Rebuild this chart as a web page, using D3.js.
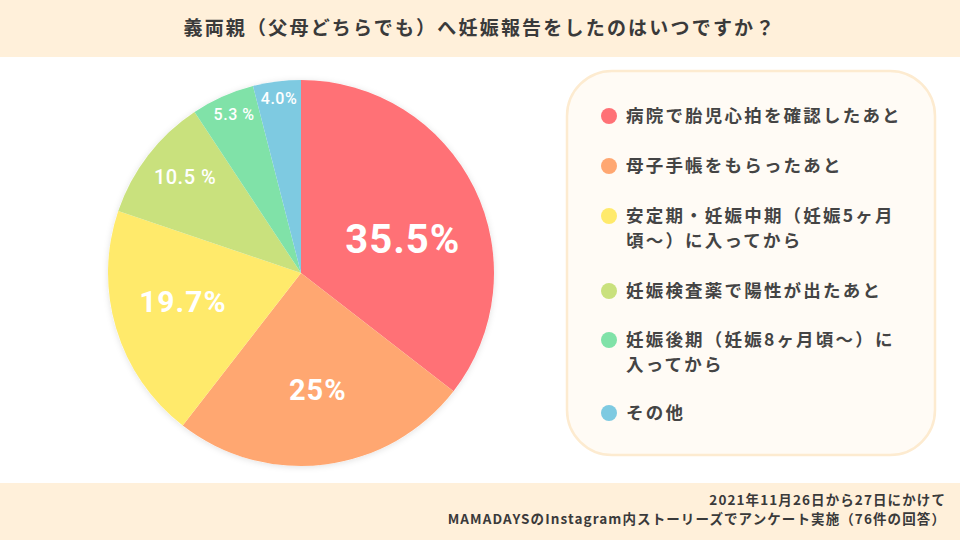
<!DOCTYPE html>
<html><head><meta charset="utf-8">
<script src="https://cdn.jsdelivr.net/npm/d3@7"></script>
<style>body{margin:0;background:#fff;}svg{display:block;font-family:"Noto Sans CJK JP","Noto Sans",sans-serif;}</style>
</head><body>
<script>
const categories = ["病院で胎児心拍を確認したあと","母子手帳をもらったあと","安定期・妊娠中期（妊娠5ヶ月頃〜）に入ってから","妊娠検査薬で陽性が出たあと","妊娠後期（妊娠8ヶ月頃〜）に入ってから","その他"];
const legendLines = [["病院で胎児心拍を確認したあと"],["母子手帳をもらったあと"],["安定期・妊娠中期（妊娠5ヶ月","頃〜）に入ってから"],["妊娠検査薬で陽性が出たあと"],["妊娠後期（妊娠8ヶ月頃〜）に","入ってから"],["その他"]];
const values = [35.5, 25, 19.7, 10.5, 5.3, 4.0];
const valueLabels = ["35.5%","25%","19.7%","10.5 %","5.3 %","4.0%"];
const colors = ["#FF7176","#FFA771","#FFEA6B","#C9E17D","#80E2A8","#7ECAE1"];
const title = "義両親（父母どちらでも）へ妊娠報告をしたのはいつですか？";
const footer = ["2021年11月26日から27日にかけて","MAMADAYSのInstagram内ストーリーズでアンケート実施（76件の回答）"];

const W=960,H=540;
const svg=d3.select("body").append("svg").attr("width",W).attr("height",H);
svg.append("rect").attr("width",W).attr("height",57).attr("fill","#FFF0DA");
svg.append("rect").attr("y",483).attr("width",W).attr("height",57).attr("fill","#FFF0DA");
svg.append("text").attr("x",480).attr("y",35).attr("text-anchor","middle").attr("font-size",19).attr("font-weight","bold").attr("fill","#3a3a3a").attr("letter-spacing",2.2).text(title);
footer.forEach((t,i)=>svg.append("text").attr("x",946).attr("y",505+i*19).attr("text-anchor","end").attr("font-size",13.5).attr("font-weight","bold").attr("fill","#3a3a3a").attr("letter-spacing",1.1).text(t));

// pie
const cx=301,cy=273,R=193;
const pie=d3.pie().sort(null).value(d=>d);
const arcs=pie(values);
const arc=d3.arc().innerRadius(0).outerRadius(R);
const g=svg.append("g").attr("transform",`translate(${cx},${cy})`);
const defs=svg.append("defs");
const f=defs.append("filter").attr("id","sh").attr("x","-20%").attr("y","-20%").attr("width","140%").attr("height","140%");
f.append("feDropShadow").attr("dx",0).attr("dy",1).attr("stdDeviation",3).attr("flood-color","#000").attr("flood-opacity",0.12);
g.append("circle").attr("r",R).attr("fill","#fff").attr("filter","url(#sh)");
g.selectAll("path").data(arcs).join("path").attr("d",arc).attr("fill",(d,i)=>colors[i]);
const labelR=[0.555,0.61,0.63,0.78,0.89,0.91];
const labelDA=[8,-1,3,2,1,0]; // degrees offset from slice mid-angle
const labelSize=[40,29,30,20,16,16];
arcs.forEach((d,i)=>{
  const ang=(d.startAngle+d.endAngle)/2+labelDA[i]*Math.PI/180;
  const r=R*labelR[i];
  const x=r*Math.sin(ang), y=-r*Math.cos(ang);
  g.append("text").attr("x",x).attr("y",y).attr("text-anchor","middle").attr("dominant-baseline","central")
   .attr("font-family","Roboto,'Noto Sans',sans-serif").attr("font-weight",i<3?"bold":"500").attr("font-size",labelSize[i]).attr("fill","#fff").attr("letter-spacing",i<3?1:0.5).text(valueLabels[i]);
});

// legend
svg.append("rect").attr("x",567).attr("y",71).attr("width",368).attr("height",384).attr("rx",45).attr("fill","#FFFBF5").attr("stroke","#FDEBD0").attr("stroke-width",2.5);
const rowY=[116,166,216,291,340,413];
legendLines.forEach((lines,i)=>{
  svg.append("circle").attr("cx",609).attr("cy",rowY[i]).attr("r",8).attr("fill",colors[i]);
  lines.forEach((t,j)=>svg.append("text").attr("x",626).attr("y",rowY[i]+6+j*25).attr("font-size",17.5).attr("font-weight","bold").attr("fill","#444").attr("letter-spacing",2.2).text(t));
});
</script>
</body></html>
